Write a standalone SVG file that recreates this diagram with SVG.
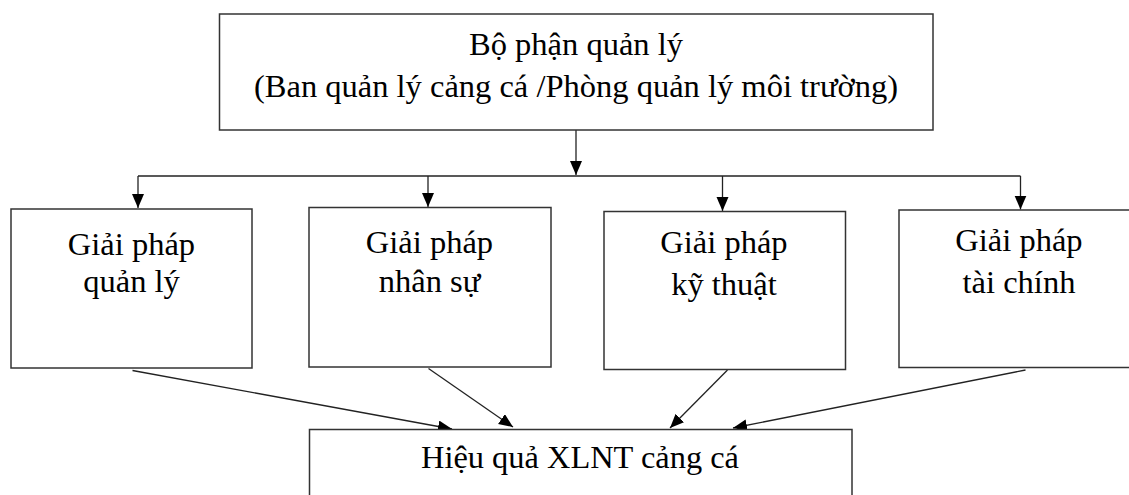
<svg xmlns="http://www.w3.org/2000/svg" width="1129" height="495" viewBox="0 0 1129 495">
<defs>
<style>
.box{fill:#fff;stroke:#333;stroke-width:1.5}
.t{font-family:"Liberation Serif","Times New Roman",serif;font-size:32.5px;fill:#000;text-anchor:middle}
.c{fill:none;stroke:#222;stroke-width:1.3}
</style>
<marker id="ah" markerUnits="userSpaceOnUse" markerWidth="15" markerHeight="13" refX="14" refY="6" orient="auto" viewBox="0 0 15 13">
<path d="M0,0 L14,6 L0,12 z" fill="#000"/>
</marker>
</defs>
<rect width="1129" height="495" fill="#fff"/>
<g id="connectors">
<line class="c" x1="576" y1="130" x2="576" y2="175" marker-end="url(#ah)"/>
<line class="c" x1="138" y1="176" x2="1020.5" y2="176"/>
<line class="c" x1="138" y1="176" x2="138" y2="208" marker-end="url(#ah)"/>
<line class="c" x1="428" y1="176" x2="428" y2="207" marker-end="url(#ah)"/>
<line class="c" x1="722.5" y1="176" x2="722.5" y2="211" marker-end="url(#ah)"/>
<line class="c" x1="1020.5" y1="176" x2="1020.5" y2="209.5" marker-end="url(#ah)"/>
<line class="c" x1="132.5" y1="370.5" x2="452" y2="429" marker-end="url(#ah)"/>
<line class="c" x1="428.5" y1="368.5" x2="513" y2="427" marker-end="url(#ah)"/>
<line class="c" x1="727.5" y1="370" x2="670" y2="428" marker-end="url(#ah)"/>
<line class="c" x1="1025.5" y1="370" x2="733" y2="428" marker-end="url(#ah)"/>
</g>
<g id="top">
<rect class="box" x="219.5" y="14" width="713.5" height="116"/>
<text class="t" x="576" y="55">Bộ phận quản lý</text>
<text class="t" x="576" y="97">(Ban quản lý cảng cá /Phòng quản lý môi trường)</text>
</g>
<g id="gp-quanly">
<rect class="box" x="11" y="209" width="241" height="159"/>
<text class="t" x="131.5" y="255">Giải pháp</text>
<text class="t" x="131.5" y="292">quản lý</text>
</g>
<g id="gp-nhansu">
<rect class="box" x="309" y="207.5" width="242" height="159.5"/>
<text class="t" x="429.5" y="253">Giải pháp</text>
<text class="t" x="429.5" y="292">nhân sự</text>
</g>
<g id="gp-kythuat">
<rect class="box" x="604" y="211.5" width="241.5" height="158"/>
<text class="t" x="724" y="253">Giải pháp</text>
<text class="t" x="724" y="295">kỹ thuật</text>
</g>
<g id="gp-taichinh">
<rect class="box" x="899" y="210" width="240" height="157.5"/>
<text class="t" x="1019" y="251">Giải pháp</text>
<text class="t" x="1019" y="293">tài chính</text>
</g>
<g id="hieuqua">
<rect class="box" x="309.5" y="429.5" width="542.5" height="80"/>
<text class="t" x="580" y="468" textLength="318" lengthAdjust="spacingAndGlyphs">Hiệu quả XLNT cảng cá</text>
</g>
</svg>
